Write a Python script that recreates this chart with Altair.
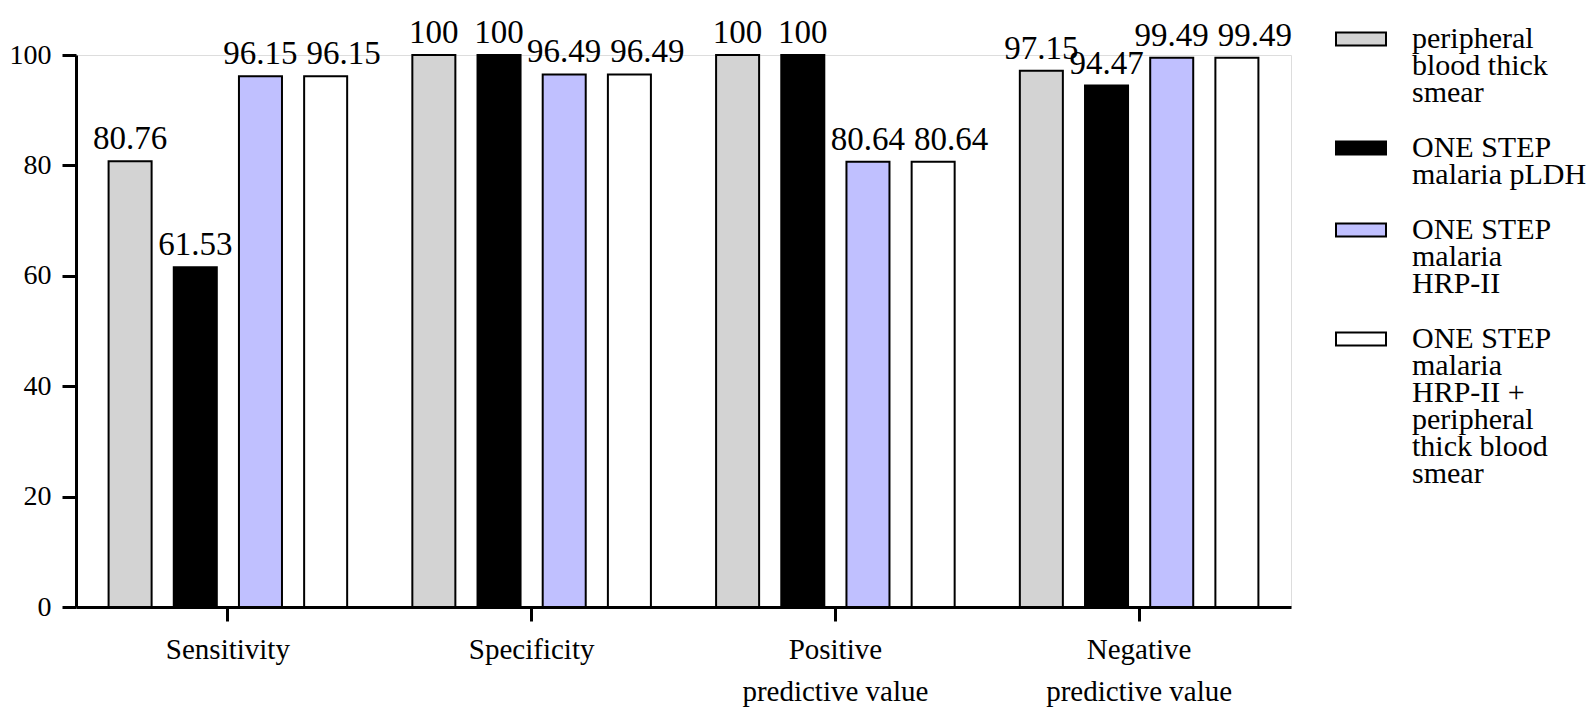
import altair as alt
import pandas as pd

categories = ["Sensitivity", "Specificity", "Positive\npredictive value", "Negative\npredictive value"]
series = [
    "peripheral\nblood thick\nsmear",
    "ONE STEP\nmalaria pLDH",
    "ONE STEP\nmalaria\nHRP-II",
    "ONE STEP\nmalaria\nHRP-II +\nperipheral\nthick blood\nsmear",
]
thick_smear = [80.76, 100, 100, 97.15]
pldh = [61.53, 100, 100, 94.47]
hrp2 = [96.15, 96.49, 80.64, 99.49]
hrp2_smear = [96.15, 96.49, 80.64, 99.49]
colors = ["#d3d3d3", "#000000", "#c0c0ff", "#ffffff"]
y_ticks = [0, 20, 40, 60, 80, 100]

rows = []
for s, vals in zip(series, [thick_smear, pldh, hrp2, hrp2_smear]):
    for c, v in zip(categories, vals):
        rows.append({"category": c, "series": s, "value": v})
df = pd.DataFrame(rows)

FONT = "Liberation Serif, Times New Roman, serif"

base = alt.Chart(df).encode(
    x=alt.X(
        "category:N",
        sort=categories,
        scale=alt.Scale(domain=categories, paddingInner=0, paddingOuter=0),
        axis=alt.Axis(
            title=None,
            labelAngle=0,
            labelExpr="split(datum.label, '\\n')",
            labelFont=FONT,
            labelFontSize=29,
            labelColor="black",
            labelLineHeight=42,
            labelPadding=14,
            labelBaseline="top",
            labelLimit=500,
            tickSize=14,
            tickWidth=3,
            tickColor="black",
            domainWidth=3,
            domainColor="black",
            grid=False,
        ),
    ),
    xOffset=alt.XOffset(
        "series:N",
        sort=series,
        scale=alt.Scale(domain=series, paddingInner=0.34, paddingOuter=0.5),
    ),
)

bars = base.mark_bar(stroke="black", strokeWidth=2).encode(
    y=alt.Y(
        "value:Q",
        scale=alt.Scale(domain=[0, 100], nice=False),
        axis=alt.Axis(
            title=None,
            values=y_ticks,
            labelFont=FONT,
            labelFontSize=28,
            labelColor="black",
            labelPadding=11,
            tickSize=14,
            tickWidth=3,
            tickColor="black",
            domainWidth=3,
            domainColor="black",
            grid=False,
        ),
    ),
    fill=alt.Fill(
        "series:N",
        sort=series,
        scale=alt.Scale(domain=series, range=colors),
        legend=alt.Legend(
            title=None,
            orient="none",
            legendX=1259,
            legendY=-33,
            padding=0,
            symbolType="M-1,-0.62H1V-0.1H-1Z",
            symbolSize=2500,
            symbolStrokeColor="black",
            symbolStrokeWidth=2,
            labelFont=FONT,
            labelFontSize=30,
            labelColor="black",
            labelLimit=400,
            labelOffset=25,
            labelBaseline="alphabetic",
            rowPadding=23,
            labelExpr="split(datum.label, '\\n')",
        ),
    ),
)

labels_main = base.mark_text(
    baseline="alphabetic", dy=-12, font=FONT, fontSize=33, color="black"
).encode(
    y="value:Q",
    text=alt.Text("value:Q", format=""),
).transform_filter(alt.FieldOneOfPredicate(field="series", oneOf=series[:3]))

labels_last = base.mark_text(
    baseline="alphabetic", dy=-12, dx=18, font=FONT, fontSize=33, color="black"
).encode(
    y="value:Q",
    text=alt.Text("value:Q", format=""),
).transform_filter(alt.FieldOneOfPredicate(field="series", oneOf=series[3:]))

chart = (
    alt.layer(bars, labels_main, labels_last)
    .properties(
        width=1215,
        height=552,
        padding={"left": 68, "top": 47, "right": 295, "bottom": 105},
        autosize=alt.AutoSizeParams(type="none"),
        background="white",
    )
    .configure_view(stroke=None)
    .configure(style={"guide-label": {"lineHeight": 27}})
)

chart.save("out.html", embed_options={"renderer": "svg", "actions": False})
